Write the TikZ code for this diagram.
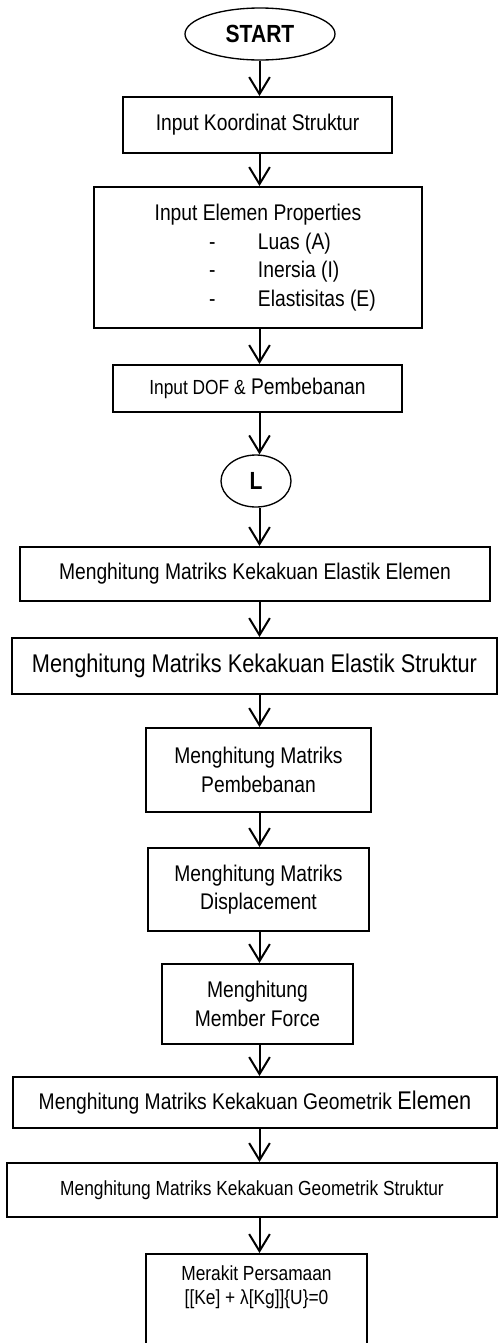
\documentclass[tikz,border=0pt]{standalone}
\usepackage{fontspec}
\setmainfont{Liberation Sans}[FakeStretch=0.85]
\usetikzlibrary{arrows.meta,shapes.geometric,positioning}
\newcommand{\fbase}{\fontsize{17}{21.5}\selectfont}
\newcommand{\fbig}{\fontsize{19.2}{22}\selectfont}
\newcommand{\fsmall}{\fontsize{15.3}{18}\selectfont}
\newcommand{\fterm}{\fontsize{18.6}{20}\selectfont\bfseries}
\newcommand{\listline}[1]{\makebox[178.5pt][l]{\hspace*{52.5pt}\makebox[36.75pt][l]{-}#1}}

\begin{document}
\begin{tikzpicture}[x=0.75pt,y=-0.75pt,
    procbox/.style={draw, line width=1.5pt, rectangle, inner sep=2pt, align=center, font=\fbase},
    termnode/.style={draw, ellipse, line width=1pt, inner sep=0pt, font=\fterm},
    flow/.style={line width=1.5pt, -{Straight Barb[length=12.75pt,width=15.5pt]}}]
    \useasboundingbox (0,0) rectangle (502,1343);
    \clip (0,0) rectangle (502,1343);

    % Arrow axis
    \coordinate (spine) at (259.5,0);

    % Input
    \node[termnode, minimum width=112.5pt, minimum height=39pt] (start) at (260,34) {START};
    \node[procbox, minimum width=201.75pt, minimum height=42pt] (koord) at (257.5,125) {Input Koordinat Struktur};
    \node[procbox, minimum width=246pt, minimum height=105.75pt] (prop) at (258,257.5)
        {Input Elemen Properties\\\listline{Luas (A)}\\\listline{Inersia (I)}\\\listline{Elastisitas (E)}};
    \node[procbox, minimum width=216.75pt, minimum height=35.25pt] (dof) at (257.5,388.5)
        {{\fsmall Input DOF \&} Pembebanan};
    \node[termnode, minimum width=52.5pt, minimum height=39pt] (loop) at (256,481) {L};

    % Elastic stiffness
    \node[procbox, minimum width=352.5pt, minimum height=40.5pt] (kee) at (255,574)
        {Menghitung Matriks Kekakuan Elastik Elemen};
    \node[procbox, minimum width=363.75pt, minimum height=42pt, font=\fbig] (kes) at (254.5,666)
        {Menghitung Matriks Kekakuan Elastik Struktur};
    \node[procbox, minimum width=168.75pt, minimum height=63pt] (pemb) at (258.5,770)
        {Menghitung Matriks\\Pembebanan};
    \node[procbox, minimum width=165.75pt, minimum height=62.25pt] (disp) at (258.5,889.5)
        {Menghitung Matriks\\Displacement};
    \node[procbox, minimum width=143.25pt, minimum height=60pt] (mf) at (257.5,1004)
        {Menghitung\\Member Force};

    % Geometric stiffness
    \node[procbox, minimum width=363pt, minimum height=38.25pt] (kge) at (255,1102.5)
        {Menghitung Matriks Kekakuan Geometrik {\fbig Elemen}};
    \node[procbox, minimum width=367.5pt, minimum height=40.5pt, font=\fsmall] (kgs) at (252,1190)
        {Menghitung Matriks Kekakuan Geometrik Struktur};
    \node[procbox, minimum width=165.75pt, minimum height=69pt, font=\fsmall] (eq) at (256.5,1300)
        {Merakit Persamaan\\{}[[Ke] + λ[Kg]]\{U\}=0\\[4pt]\mbox{}};

    % Connectors
    \foreach \a/\b in {start/koord, koord/prop, prop/dof, dof/loop, loop/kee, kee/kes,
        kes/pemb, pemb/disp, disp/mf, mf/kge, kge/kgs, kgs/eq}
        \draw[flow] (\a.south -| spine) -- (\b.north -| spine);
\end{tikzpicture}
\end{document}
